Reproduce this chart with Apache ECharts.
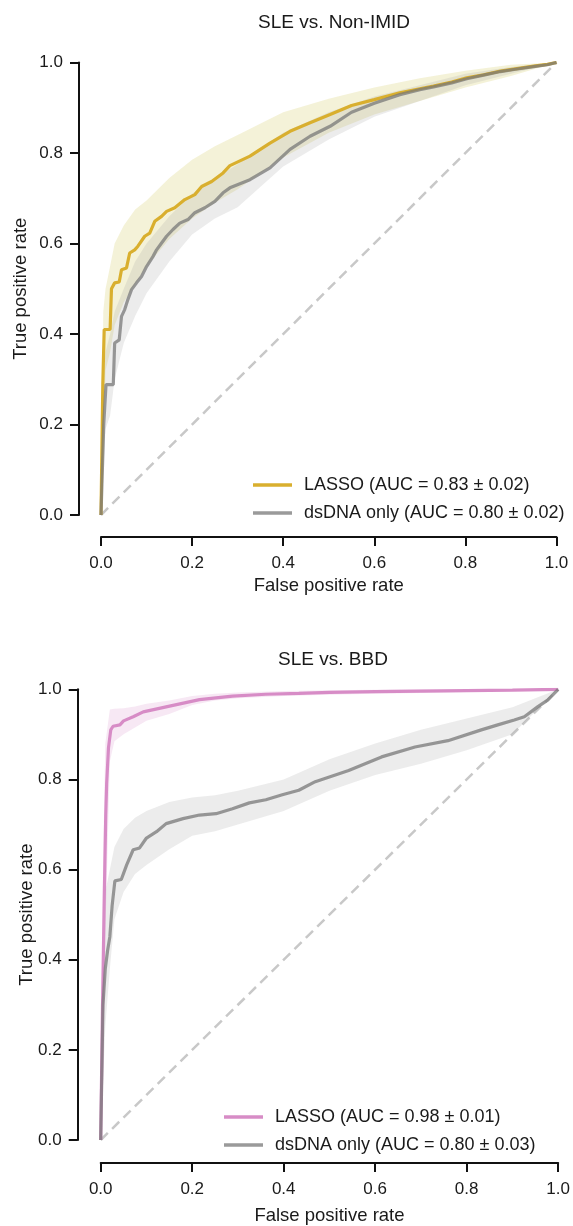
<!DOCTYPE html>
<html>
<head>
<meta charset="utf-8">
<script src="https://cdn.jsdelivr.net/npm/echarts@6/dist/echarts.min.js"></script>
<style>
html,body{margin:0;padding:0;background:#fff;}
#chart{width:573px;height:1226px;}
</style>
</head>
<body>
<div id="chart"></div>
<script>
// ---------- Panel 1: SLE vs. Non-IMID ----------
const p1Title = 'SLE vs. Non-IMID';
const p1Labels = ['LASSO (AUC = 0.83 ± 0.02)', 'dsDNA only (AUC = 0.80 ± 0.02)'];
const p1LassoFpr = [0,0.004,0.007,0.02,0.023,0.03,0.04,0.045,0.056,0.063,0.074,0.081,0.096,0.107,0.118,0.133,0.144,0.162,0.184,0.206,0.221,0.243,0.268,0.283,0.327,0.371,0.415,0.459,0.503,0.55,0.6,0.656,0.7,0.73,0.77,0.803,0.84,0.877,0.91,0.95,0.98,1];
const p1LassoTpr = [0,0.29,0.41,0.41,0.50,0.513,0.515,0.542,0.546,0.579,0.586,0.594,0.616,0.623,0.649,0.660,0.671,0.679,0.697,0.708,0.726,0.737,0.756,0.772,0.793,0.822,0.848,0.867,0.885,0.905,0.918,0.933,0.942,0.948,0.957,0.966,0.973,0.981,0.986,0.992,0.996,1];
const p1DsdnaFpr = [0,0.006,0.011,0.027,0.03,0.04,0.045,0.052,0.059,0.067,0.078,0.089,0.1,0.114,0.122,0.133,0.144,0.158,0.173,0.191,0.206,0.228,0.25,0.268,0.283,0.327,0.371,0.415,0.459,0.503,0.55,0.6,0.656,0.7,0.73,0.77,0.803,0.84,0.877,0.91,0.95,0.98,1];
const p1DsdnaTpr = [0,0.2,0.288,0.288,0.38,0.387,0.439,0.454,0.476,0.498,0.513,0.527,0.549,0.571,0.586,0.601,0.616,0.631,0.645,0.653,0.668,0.679,0.693,0.712,0.723,0.741,0.767,0.808,0.837,0.859,0.89,0.91,0.929,0.94,0.946,0.955,0.964,0.972,0.98,0.985,0.991,0.995,1];
const p1BandFpr = [0,0.005,0.01,0.02,0.03,0.05,0.075,0.1,0.15,0.2,0.25,0.3,0.4,0.5,0.6,0.7,0.8,0.9,1];
const p1LassoHi = [0,0.45,0.50,0.55,0.60,0.64,0.675,0.695,0.745,0.785,0.815,0.84,0.89,0.92,0.945,0.965,0.982,0.995,1];
const p1LassoLo = [0,0.15,0.32,0.36,0.42,0.47,0.51,0.55,0.61,0.655,0.69,0.72,0.79,0.845,0.885,0.915,0.945,0.97,1];
const p1DsdnaHi = [0,0.30,0.36,0.40,0.45,0.50,0.56,0.60,0.66,0.71,0.745,0.775,0.845,0.89,0.925,0.95,0.975,0.99,1];
const p1DsdnaLo = [0,0.10,0.19,0.22,0.30,0.38,0.44,0.49,0.56,0.62,0.655,0.68,0.77,0.83,0.88,0.915,0.95,0.975,1];

// ---------- Panel 2: SLE vs. BBD ----------
const p2Title = 'SLE vs. BBD';
const p2Labels = ['LASSO (AUC = 0.98 ± 0.01)', 'dsDNA only (AUC = 0.80 ± 0.03)'];
const p2LassoFpr = [0,0.004,0.008,0.011,0.013,0.017,0.022,0.027,0.042,0.05,0.071,0.093,0.143,0.216,0.288,0.361,0.433,0.5,0.6,0.7,0.8,0.9,1];
const p2LassoTpr = [0,0.3,0.55,0.72,0.79,0.87,0.91,0.918,0.921,0.93,0.939,0.95,0.961,0.977,0.985,0.989,0.991,0.993,0.995,0.996,0.997,0.998,1];
const p2DsdnaFpr = [0,0.005,0.01,0.015,0.02,0.025,0.031,0.045,0.057,0.071,0.085,0.1,0.122,0.143,0.18,0.216,0.252,0.288,0.325,0.361,0.397,0.433,0.469,0.542,0.614,0.687,0.759,0.832,0.868,0.904,0.926,0.955,0.977,1];
const p2DsdnaTpr = [0,0.3,0.38,0.42,0.451,0.52,0.575,0.578,0.611,0.644,0.648,0.67,0.684,0.702,0.713,0.721,0.724,0.735,0.748,0.755,0.766,0.776,0.795,0.82,0.85,0.872,0.886,0.91,0.921,0.932,0.939,0.961,0.976,1];
const p2BandFpr = [0,0.005,0.01,0.02,0.03,0.05,0.075,0.1,0.15,0.2,0.25,0.3,0.4,0.5,0.6,0.7,0.8,0.9,1];
const p2LassoHi = [0,0.6,0.88,0.955,0.957,0.958,0.962,0.968,0.975,0.985,0.99,0.993,0.996,0.998,0.999,1,1,1,1];
const p2LassoLo = [0,0.1,0.45,0.84,0.885,0.9,0.915,0.93,0.945,0.965,0.975,0.98,0.985,0.988,0.99,0.992,0.994,0.996,1];
const p2DsdnaHi = [0,0.45,0.55,0.6,0.65,0.69,0.715,0.73,0.75,0.76,0.765,0.775,0.80,0.845,0.88,0.91,0.935,0.96,1];
const p2DsdnaLo = [0,0.12,0.25,0.38,0.49,0.55,0.59,0.61,0.645,0.675,0.685,0.70,0.73,0.775,0.81,0.835,0.865,0.90,1];

// chance diagonal
const diagX = [0, 1];
const diagY = [0, 1];

const FONT = "'Liberation Sans', Arial, Helvetica, sans-serif";
const TXT = '#1a1a1a';

function zip(a, b) { return a.map((v, i) => [v, b[i]]); }

function band(idx, fpr, lo, hi, fill) {
  return {
    type: 'custom', xAxisIndex: idx, yAxisIndex: idx, silent: true, z: 1,
    data: [[0, 0]],
    renderItem: function (params, api) {
      const pts = [];
      for (let i = 0; i < fpr.length; i++) pts.push(api.coord([fpr[i], hi[i]]));
      for (let i = fpr.length - 1; i >= 0; i--) pts.push(api.coord([fpr[i], lo[i]]));
      return { type: 'polygon', shape: { points: pts }, style: { fill: fill } };
    }
  };
}
function curve(idx, name, fpr, tpr, color, z) {
  return {
    type: 'line', name: name, xAxisIndex: idx, yAxisIndex: idx, z: z,
    data: zip(fpr, tpr), showSymbol: false, symbol: 'none', color: color,
    lineStyle: { color: color, width: 3.2 }, silent: true
  };
}
function diag(idx) {
  return {
    type: 'line', xAxisIndex: idx, yAxisIndex: idx, z: 0, data: zip(diagX, diagY),
    showSymbol: false, symbol: 'none', silent: true,
    lineStyle: { color: '#c8c8c8', width: 2.5, type: [10, 6] }
  };
}
function xAx(idx, offset, gap, margin) {
  return {
    type: 'value', gridIndex: idx, min: 0, max: 1, interval: 0.2, offset: offset,
    name: 'False positive rate', nameLocation: 'middle', nameGap: gap, nameMoveOverlap: false,
    nameTextStyle: { fontSize: 18.5, color: TXT, fontFamily: FONT },
    axisLine: { show: true, onZero: false, lineStyle: { color: '#111', width: 2 } },
    axisTick: { show: true, length: 9, lineStyle: { color: '#111', width: 2 } },
    axisLabel: { fontSize: 17, color: TXT, fontFamily: FONT, margin: margin, formatter: v => v.toFixed(1), showMaxLabel: true, showMinLabel: true },
    splitLine: { show: false }
  };
}
function yAx(idx, offset, gap) {
  return {
    type: 'value', gridIndex: idx, min: 0, max: 1, interval: 0.2, offset: offset,
    name: 'True positive rate', nameLocation: 'middle', nameGap: gap, nameMoveOverlap: false,
    nameTextStyle: { fontSize: 18.5, color: TXT, fontFamily: FONT },
    axisLine: { show: true, onZero: false, lineStyle: { color: '#111', width: 2 } },
    axisTick: { show: true, length: 9, lineStyle: { color: '#111', width: 2 } },
    axisLabel: { fontSize: 17, color: TXT, fontFamily: FONT, margin: 16, formatter: v => v.toFixed(1) },
    splitLine: { show: false }
  };
}
function legend(labels, left, top) {
  return {
    data: labels, left: left, top: top, orient: 'vertical', icon: 'rect', padding: 0,
    itemWidth: 39, itemHeight: 3.5, itemGap: 10, selectedMode: false,
    textStyle: { fontSize: 18, color: TXT, fontFamily: FONT, padding: [0, 0, 0, 7] }
  };
}

const chart = echarts.init(document.getElementById('chart'), null, { renderer: 'canvas' });
chart.setOption({
  animation: false,
  backgroundColor: '#fff',
  title: [
    { text: p1Title, left: 329, top: 8, textAlign: 'center', textStyle: { fontSize: 19, fontWeight: 'normal', color: TXT, fontFamily: FONT } },
    { text: p2Title, left: 328, top: 645, textAlign: 'center', textStyle: { fontSize: 19, fontWeight: 'normal', color: TXT, fontFamily: FONT } }
  ],
  grid: [
    { left: 101, top: 62.5, width: 455.5, height: 452.5 },
    { left: 100.7, top: 689.3, width: 460.3, height: 456.7 }
  ],
  xAxis: [xAx(0, 22, 39, 18), xAx(1, 23, 43, 18)],
  yAxis: [yAx(0, 22, 49), yAx(1, 23, 41)],
  legend: [legend(p1Labels, 253, 476), legend(p2Labels, 224, 1108)],
  series: [
    diag(0),
    band(0, p1BandFpr, p1LassoLo, p1LassoHi, 'rgba(200,190,60,0.2)'),
    band(0, p1BandFpr, p1DsdnaLo, p1DsdnaHi, 'rgba(160,160,160,0.2)'),
    curve(0, p1Labels[0], p1LassoFpr, p1LassoTpr, '#D9AF2E', 2),
    curve(0, p1Labels[1], p1DsdnaFpr, p1DsdnaTpr, 'rgba(120,120,120,0.75)', 3),
    diag(1),
    band(1, p2BandFpr, p2LassoLo, p2LassoHi, 'rgba(215,140,200,0.2)'),
    band(1, p2BandFpr, p2DsdnaLo, p2DsdnaHi, 'rgba(160,160,160,0.2)'),
    curve(1, p2Labels[0], p2LassoFpr, p2LassoTpr, '#D78CC6', 2),
    curve(1, p2Labels[1], p2DsdnaFpr, p2DsdnaTpr, 'rgba(120,120,120,0.75)', 3)
  ]
});
</script>
</body>
</html>
